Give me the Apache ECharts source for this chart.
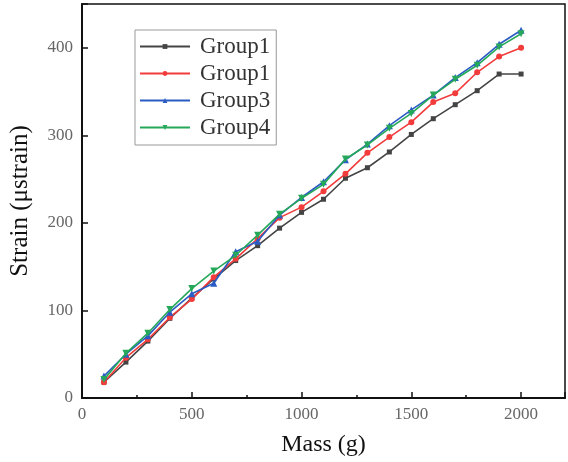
<!DOCTYPE html>
<html>
<head>
<meta charset="utf-8">
<script src="https://cdn.jsdelivr.net/npm/echarts@6/dist/echarts.min.js"></script>
<style>html,body{margin:0;padding:0;background:#fff}#c{width:568px;height:462px}</style>
</head>
<body>
<div id="c"></div>
<script>
const mass = [100,200,300,400,500,600,700,800,900,1000,1100,1200,1300,1400,1500,1600,1700,1800,1900,2000];
const group1a = [18,41,65,91,114,136,157,174,194,212,227,251,263,281,301,319,335,351,370,370];
const group1b = [18,46,67,92,113,138,159,182,206,218,236,256,280,298,315,338,348,372,390,400];
const group3 = [25,50,71,98,119,131,167,179,209,229,247,272,290,311,329,346,366,383,404,420];
const group4 = [21,51,74,101,125,145,163,186,210,228,244,273,289,308,325,346,364,380,401,416];
const seriesNames = ['Group1','Group1','Group3','Group4'];
const xTicks = {min:0, max:2200, interval:500};
const yTicks = {min:0, max:450, interval:100};

const chart = echarts.init(document.getElementById('c'), null, {renderer:'canvas'});
const pair = arr => mass.map((m,i)=>[m,arr[i]]);
const colors = ['#444444','#f23b3b','#2b5cc4','#26a85a'];
const symbols = ['rect','circle','triangle','path://M0,0 L10,0 L5,10 Z'];
const sizes = [5,6,7,7];
const datas = [group1a, group1b, group3, group4];
const mkSeries = (i) => ({
  name: seriesNames[i] + (i===1 ? '\u200b' : ''),
  type:'line',
  data: pair(datas[i]),
  symbol: symbols[i],
  symbolSize: sizes[i],
  showAllSymbol: true,
  lineStyle:{color:colors[i], width:1.6},
  itemStyle:{color:colors[i]},
  animation:false,
  z: 2+i
});
const serif = 'Liberation Serif';
chart.setOption({
  backgroundColor:'#fff',
  animation:false,
  grid:{left:82, top:4, right:2, bottom:63, containLabel:false, show:true, borderColor:'#111', borderWidth:1.5},
  legend:{
    orient:'vertical', left:135, top:30,
    data: seriesNames.map((n,i)=> n + (i===1 ? '\u200b' : '')),
    backgroundColor:'#fff',
    borderColor:'#999', borderWidth:1,
    padding:[5,6,6,4],
    itemWidth:50, itemHeight:6, itemGap:4,
    textStyle:{fontFamily:serif, fontSize:23, color:'#333', padding:[0,0,0,5]}
  },
  xAxis:{
    type:'value', min:xTicks.min, max:xTicks.max, interval:xTicks.interval,
    name:'Mass (g)', nameLocation:'middle', nameGap:35,
    nameTextStyle:{fontFamily:serif, fontSize:24, color:'#111'},
    axisLine:{show:true, onZero:false, lineStyle:{color:'#111', width:2}},
    axisTick:{show:true, inside:true, length:6, lineStyle:{color:'#111', width:1.5}},
    minorTick:{show:true, splitNumber:2, length:3, lineStyle:{color:'#111', width:1.5}},
    axisLabel:{fontFamily:serif, fontSize:17, color:'#666', margin:8,
      formatter: v => v > 2000 ? '' : String(v)},
    splitLine:{show:false}
  },
  yAxis:{
    type:'value', min:yTicks.min, max:yTicks.max, interval:yTicks.interval,
    name:'Strain (\u03bcstrain)', nameLocation:'middle', nameGap:49,
    nameTextStyle:{fontFamily:serif, fontSize:25, color:'#111'},
    axisLine:{show:true, onZero:false, lineStyle:{color:'#111', width:2}},
    axisTick:{show:true, inside:true, length:6, lineStyle:{color:'#111', width:1.5}},
    axisLabel:{fontFamily:serif, fontSize:17, color:'#666', margin:9,
      formatter: v => v > 400 ? '' : String(v)},
    splitLine:{show:false}
  },
  series:[0,1,2,3].map(mkSeries)
});
</script>
</body>
</html>
